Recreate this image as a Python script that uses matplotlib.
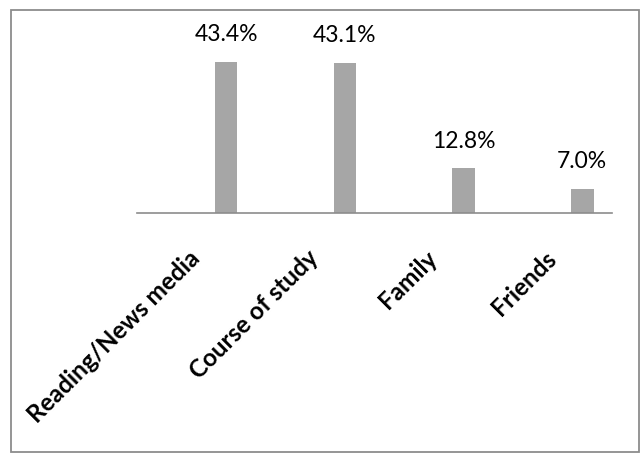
import matplotlib.pyplot as plt
from matplotlib.patches import Rectangle

plt.rcParams['font.family'] = ['Lato', 'DejaVu Sans']

categories = ['Reading/News media', 'Course of study', 'Family', 'Friends']
values = [43.4, 43.1, 12.8, 7.0]
value_labels = ['43.4%', '43.1%', '12.8%', '7.0%']

fig = plt.figure(figsize=(6.44, 4.59), dpi=100)
# outer chart border
fig.patches.append(Rectangle((11 / 644, 1 - 452 / 459), 628 / 644, 442 / 459,
                             transform=fig.transFigure, fill=False,
                             edgecolor='#8c8c8c', linewidth=1.3))

ax = fig.add_axes([137 / 644, 1 - 213 / 459, 475 / 644, 174 / 459])
x = list(range(len(categories)))
ax.bar(x, values, width=0.19, color='#a6a6a6')
for xi, v, lab in zip(x, values, value_labels):
    ax.annotate(lab, (xi, v), xytext=(0, 12), textcoords='offset points',
                ha='center', va='bottom', fontsize=16.5)

ax.set_xlim(-0.75, 3.25)
ax.set_ylim(0, 50)
ax.set_yticks([])
for s in ['top', 'right', 'left']:
    ax.spines[s].set_visible(False)
ax.spines['bottom'].set_color('#8c8c8c')
ax.spines['bottom'].set_linewidth(1.2)
ax.set_xticks([xi - 0.32 for xi in x])
ax.set_xticklabels(categories, rotation=45, ha='right', va='top',
                   rotation_mode='anchor', fontsize=17.5, fontweight='bold')
ax.tick_params(axis='x', length=0, pad=24)

fig.savefig('out.png', dpi=100)
